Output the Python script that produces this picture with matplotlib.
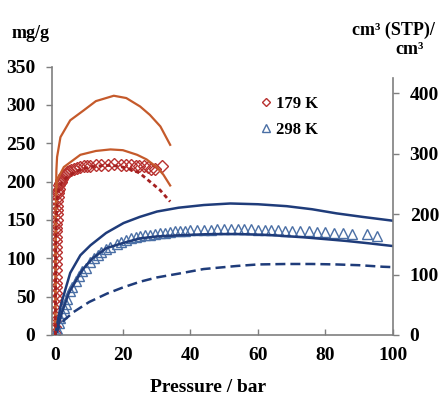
import matplotlib
matplotlib.use("Agg")
import matplotlib.pyplot as plt

plt.rcParams['font.family'] = ['Liberation Serif', 'DejaVu Serif']
plt.rcParams['font.weight'] = 'bold'

# 179 K experimental points (diamonds)
p179 = [0.0, 0.01, 0.02, 0.03, 0.04, 0.05, 0.06, 0.07, 0.08, 0.09, 0.1, 0.12,
        0.13, 0.15, 0.16, 0.18, 0.2, 0.22, 0.25, 0.28, 0.3, 0.35, 0.4, 0.45,
        0.5, 0.6, 0.7, 0.8, 0.9, 1.0, 1.2, 1.4, 1.6, 1.8, 2.0, 2.3, 2.6, 3.0,
        3.5, 4.0, 4.5, 5.4, 6.4, 7.4, 8.4, 9.4, 10.4, 12.0, 13.4, 15.5, 17.3,
        19.5, 20.8, 22.3, 23.8, 24.8, 26.3, 27.5, 28.3, 29.5, 31.7]
q179 = [3, 10, 18, 25, 33, 40, 48, 55, 62, 68, 75, 85,
        92, 100, 108, 115, 122, 128, 135, 140, 145, 150, 158, 163,
        168, 175, 180, 185, 188, 191, 195, 198, 200, 202, 204, 206, 208, 210,
        212, 214, 215, 217, 218, 219, 220, 221, 221, 222, 222, 222, 223,
        222, 222, 222, 221, 221, 220, 219, 217, 216, 221]

# 179 K model curves
p179_hi = [0, 0.1, 0.3, 0.5, 1.5, 4.4, 8.4, 12, 17.3, 21, 25.1, 28, 31.1, 34]
q179_hi = [0, 150, 215, 232, 258, 280, 293, 305, 312, 309, 298, 287, 272, 248]
p179_lo = [0, 0.1, 0.3, 0.5, 2.5, 7.4, 12, 16.3, 20, 24.2, 27, 30, 32, 34]
q179_lo = [0, 150, 190, 202, 219, 235, 240, 242, 241, 235, 229, 219, 209, 195]
p179_da = [0, 0.1, 0.3, 0.6, 1, 2, 4, 7, 10, 14, 17, 20, 23, 25, 28, 31, 34]
q179_da = [0, 110, 155, 180, 190, 200, 208, 215, 219, 221, 221, 219, 215, 211, 200, 189, 174]

# 298 K experimental points (triangles)
p298 = [0.2, 0.5, 1, 1.5, 2, 2.5, 3, 3.5, 4.4, 5, 6, 7, 8, 9, 10.4, 11.5, 12.5,
        13.5, 15, 16.3, 18.2, 19.5, 21, 22.5, 24, 25.1, 26.5, 28, 29.5, 31, 32.5,
        34, 35.5, 37, 38.5, 40, 42, 44, 46, 48, 50, 52, 54, 56, 58, 60, 62, 64,
        66, 68, 70, 72.5, 75, 77.5, 80, 82.5, 85.2, 88, 92.2, 95.2]
q298 = [3, 8, 15, 22, 29, 35, 41, 47, 57, 62, 70, 77, 83, 88, 95, 100, 104,
        108, 112, 115, 119, 121, 124, 126, 128, 129, 130, 131, 132, 133, 133.5,
        134, 135, 135.5, 136, 136.5, 137, 137, 137.5, 138, 138, 138, 138, 138, 138, 137.5, 137, 137,
        136.5, 136, 136, 135, 135, 134, 134, 133, 133, 132, 131.5, 129]

# 298 K model curves
p298_hi = [0, 0.5, 1.5, 3, 4.4, 7.4, 10.4, 15, 20.2, 25, 30.1, 36.5, 44, 51.8,
           60, 68.5, 76, 83.3, 91, 100]
q298_hi = [0, 13, 37, 60, 81, 104, 117, 133, 146, 154, 161, 166, 169.5, 171.5,
           170.5, 168, 164, 158.6, 154, 149]
p298_lo = [0, 2, 4, 8, 11, 15, 20, 25.1, 30, 36.5, 45, 53.7, 63, 73.5, 80, 86.3, 93, 100]
q298_lo = [0, 30, 55, 85, 100, 113, 120, 126, 128.5, 130, 131.5, 131.7, 130.5,
           127.4, 125, 122.6, 119.5, 116]
p298_da = [0, 1, 2.5, 5.4, 10, 15.3, 20, 25.1, 30, 36.5, 43.9, 53.7, 60, 68.5,
           76, 83.3, 90, 97, 100]
q298_da = [0, 10, 19, 30, 43, 54, 62, 69.5, 75, 80, 86, 90, 92, 92.6, 92.6,
           92, 91, 89, 88.5]

x_ticks = [0, 20, 40, 60, 80, 100]
y_ticks = [0, 50, 100, 150, 200, 250, 300, 350]
y2_ticks = [0, 100, 200, 300, 400]

ORANGE = '#C55A2B'
RED = '#B8312F'
DRED = '#A52020'
NAVY = '#1F3C7A'
BLUE = '#4A6FA5'
GRAY = '#7F7F7F'

fig = plt.figure(figsize=(4.43, 4.01), dpi=100)
ax = fig.add_axes([0.1174, 0.1646, 0.7697, 0.6693])

ax.plot(p179_hi, q179_hi, color=ORANGE, lw=1.6, zorder=3)
ax.plot(p179_lo, q179_lo, color=ORANGE, lw=1.6, zorder=3)
ax.plot(p179, q179, ls='none', marker='D', ms=6, mfc='none', mec=RED, mew=1.0,
        zorder=2, label='179 K')
ax.plot(p179_da, q179_da, color=DRED, lw=2.0, ls=(0, (1.5, 1.2)), zorder=4)

ax.plot(p298_hi, q298_hi, color=NAVY, lw=1.8, zorder=3)
ax.plot(p298_lo, q298_lo, color=NAVY, lw=1.8, zorder=3)
ax.plot(p298, q298, ls='none', marker='^', ms=7, mfc='none', mec=BLUE, mew=1.0,
        zorder=2, label='298 K')
ax.plot(p298_da, q298_da, color=NAVY, lw=1.8, ls=(0, (4, 2)), zorder=3)

ax.set_xlim(-1, 100)
ax.set_ylim(0, 350)
ax.set_xticks(x_ticks)
ax.set_yticks(y_ticks)
ax.tick_params(axis='x', direction='in', length=4, width=1, color=GRAY,
               pad=9, labelsize=14)
ax.tick_params(axis='y', direction='out', length=4, width=1, color=GRAY,
               pad=8, labelsize=14)
for lab in ax.get_xticklabels() + ax.get_yticklabels():
    lab.set_fontweight('bold')

for side in ['top', 'right']:
    ax.spines[side].set_visible(False)
for side in ['left', 'bottom']:
    ax.spines[side].set_color(GRAY)
    ax.spines[side].set_linewidth(1.2)

# right axis, cm3(STP)/cm3
ax2 = ax.twinx()
ax2.set_ylim(0, 444)
ax2.set_yticks(y2_ticks)
ax2.tick_params(axis='y', direction='out', length=4, width=1, color=GRAY,
                pad=8, labelsize=14)
for lab in ax2.get_yticklabels():
    lab.set_fontweight('bold')
for side in ['top', 'left', 'bottom']:
    ax2.spines[side].set_visible(False)
ax2.spines['right'].set_color(GRAY)
ax2.spines['right'].set_linewidth(1.2)
ax2.spines['right'].set_bounds(0, 425)

leg = ax.legend(loc='upper left', bbox_to_anchor=(253 / 443, 1 - 88 / 401),
                bbox_transform=fig.transFigure, frameon=False, fontsize=12,
                handlelength=0.6, handletextpad=0.3, labelspacing=0.55,
                borderpad=0, markerscale=0.75)
for t in leg.get_texts():
    t.set_fontweight('bold')

fig.text(31 / 443, 1 - 33 / 401, 'mg/g', ha='center', va='center',
         fontsize=13, fontweight='bold')
fig.text(352 / 443, 1 - 30 / 401, 'cm\u00b3 (STP)/', ha='left', va='center',
         fontsize=13, fontweight='bold')
fig.text(410 / 443, 1 - 50 / 401, 'cm\u00b3', ha='center', va='center',
         fontsize=13, fontweight='bold')
fig.text(208 / 443, 1 - 388 / 401, 'Pressure / bar', ha='center', va='center',
         fontsize=14, fontweight='bold')

fig.savefig('out.png', dpi=100, facecolor='white')
